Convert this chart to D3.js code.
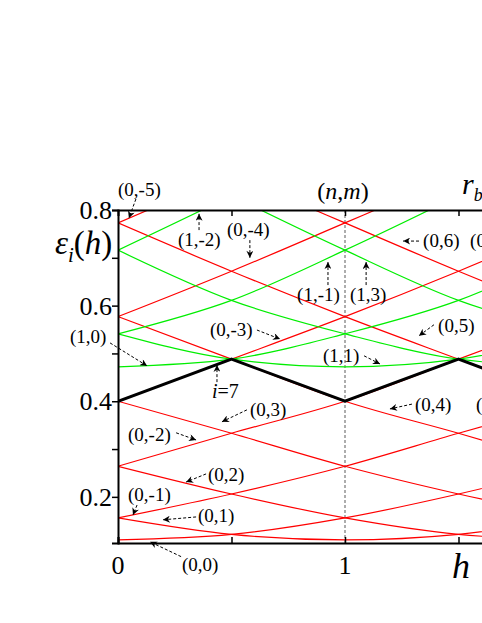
<!DOCTYPE html>
<html>
<head>
<meta charset="utf-8">
<script src="https://cdn.jsdelivr.net/npm/d3@7"></script>
<style>
  body { margin: 0; background: #fff; }
  text { font-family: "Liberation Serif", "Times New Roman", Times, serif; fill: #000; }
</style>
</head>
<body>
<div id="chart"></div>
<script>
var hGrid = [0, 0.5, 1, 1.5, 2];

// n = 0 levels (red), epsilon at each h of hGrid
var redNames = ["(0,0)", "(0,1)", "(0,-1)", "(0,2)", "(0,-2)", "(0,3)", "(0,-3)",
                "(0,4)", "(0,-4)", "(0,5)", "(0,-5)", "(0,6)"];
var redValues = [
  [0.110, 0.1215, 0.156, 0.206, 0.264],
  [0.156, 0.1215, 0.110, 0.1215, 0.156],
  [0.156, 0.206, 0.264, 0.333, 0.400],
  [0.264, 0.206, 0.156, 0.1215, 0.110],
  [0.264, 0.333, 0.400, 0.488, 0.577],
  [0.400, 0.333, 0.264, 0.206, 0.156],
  [0.400, 0.488, 0.577, 0.672, 0.773],
  [0.577, 0.488, 0.400, 0.333, 0.264],
  [0.577, 0.672, 0.773, 0.875, 0.980],
  [0.773, 0.672, 0.577, 0.488, 0.400],
  [0.773, 0.875, 0.980, 1.090, 1.200],
  [0.980, 0.875, 0.773, 0.672, 0.577]
];

// n = 1 levels (green)
var greenNames = ["(1,0)", "(1,1)", "(1,-1)", "(1,2)", "(1,-2)", "(1,3)"];
var greenValues = [
  [0.472, 0.488, 0.541, 0.611, 0.716],
  [0.541, 0.488, 0.472, 0.488, 0.541],
  [0.541, 0.611, 0.716, 0.830, 0.950],
  [0.716, 0.611, 0.541, 0.488, 0.472],
  [0.716, 0.830, 0.950, 1.070, 1.190],
  [0.950, 0.830, 0.716, 0.611, 0.541]
];

// i = 7 level (thick black)
var level7 = [0.400, 0.488, 0.400, 0.488, 0.400];

var yMajor = [0.2, 0.4, 0.6, 0.8];
var yMinor = [0.3, 0.5, 0.7];
var xMajor = [0, 1];
var xMinor = [0.5, 1.5];

// labels: text position and arrow (from -> tip), all in (h, eps)
var notes = [
  {t: "(0,-5)", h: 0.0,   e: 0.829, a: [0.079, 0.823, 0.048, 0.783]},
  {t: "(1,-2)", h: 0.264, e: 0.725, a: [0.357, 0.758, 0.357, 0.792]},
  {t: "(0,-4)", h: 0.480, e: 0.746, a: [0.581, 0.737, 0.581, 0.700]},
  {t: "(0,6)",  h: 1.344, e: 0.723, a: [1.326, 0.735, 1.256, 0.735]},
  {t: "(0,7)",  h: 1.551, e: 0.723},
  {t: "(1,-1)", h: 0.789, e: 0.610, a: [0.925, 0.643, 0.925, 0.691]},
  {t: "(1,3)",  h: 1.022, e: 0.610, a: [1.093, 0.643, 1.093, 0.691]},
  {t: "(0,-3)", h: 0.405, e: 0.537, a: [0.612, 0.549, 0.714, 0.530]},
  {t: "(1,0)",  h: -0.212, e: 0.522, a: [-0.035, 0.522, 0.128, 0.474]},
  {t: "(0,3)",  h: 0.581, e: 0.369, a: [0.568, 0.382, 0.458, 0.357]},
  {t: "(0,-2)", h: 0.044, e: 0.317, a: [0.256, 0.334, 0.344, 0.319]},
  {t: "(0,2)",  h: 0.396, e: 0.233, a: [0.388, 0.248, 0.300, 0.231]},
  {t: "(0,-1)", h: 0.044, e: 0.192, a: [0.084, 0.183, 0.066, 0.162]},
  {t: "(0,1)",  h: 0.352, e: 0.148, a: [0.344, 0.158, 0.198, 0.152]},
  {t: "(0,0)",  h: 0.282, e: 0.045, a: [0.278, 0.075, 0.141, 0.106]},
  {t: "(1,1)",  h: 0.903, e: 0.482, a: [1.084, 0.495, 1.154, 0.478]},
  {t: "(0,5)",  h: 1.410, e: 0.545, a: [1.392, 0.560, 1.326, 0.537]},
  {t: "(0,4)",  h: 1.308, e: 0.380, a: [1.295, 0.394, 1.198, 0.384]},
  {t: "(0,-3)", h: 1.577, e: 0.380}
];

var W = 482, H = 623;
var mLeft = 118, mTop = 210, mBottom = 543;
var pxPerH = 227;
var hMax = 1.8;

var svg = d3.select("#chart").append("svg")
  .attr("width", W).attr("height", H);

var x = d3.scaleLinear().domain([0, hMax]).range([mLeft, mLeft + pxPerH * hMax]);
var y = d3.scaleLinear().domain([0.1035, 0.8]).range([mBottom, mTop]);

var defs = svg.append("defs");
defs.append("clipPath").attr("id", "plot")
  .append("rect")
  .attr("x", mLeft).attr("y", mTop)
  .attr("width", pxPerH * hMax).attr("height", mBottom - mTop);

defs.append("marker")
  .attr("id", "arr")
  .attr("viewBox", "0 0 10 10")
  .attr("refX", 10).attr("refY", 5)
  .attr("markerWidth", 9).attr("markerHeight", 7)
  .attr("markerUnits", "userSpaceOnUse")
  .attr("orient", "auto")
  .append("path").attr("d", "M0,0 L10,5 L0,10 L3,5 z").attr("fill", "#000");

var plot = svg.append("g").attr("clip-path", "url(#plot)");

// dotted line at h = 1
plot.append("line")
  .attr("x1", x(1)).attr("x2", x(1))
  .attr("y1", mTop).attr("y2", mBottom)
  .attr("stroke", "#777").attr("stroke-width", 1.2)
  .attr("stroke-dasharray", "3,2");

var smooth = d3.line()
  .x(function(d, i) { return x(hGrid[i]); })
  .y(function(d) { return y(d); })
  .curve(d3.curveMonotoneX);

plot.selectAll(".red")
  .data(redValues).enter().append("path")
  .attr("d", smooth)
  .attr("fill", "none").attr("stroke", "#ff0000").attr("stroke-width", 1.2);

plot.selectAll(".green")
  .data(greenValues).enter().append("path")
  .attr("d", smooth)
  .attr("fill", "none").attr("stroke", "#00ee00").attr("stroke-width", 1.2);

plot.append("path")
  .datum(level7)
  .attr("d", d3.line()
    .x(function(d, i) { return x(hGrid[i]); })
    .y(function(d) { return y(d); }))
  .attr("fill", "none").attr("stroke", "#000").attr("stroke-width", 3);

// axes
var yAxis = svg.append("g").attr("transform", "translate(" + mLeft + ",0)")
  .call(d3.axisLeft(y).tickValues(yMajor.concat(yMinor)).tickSize(6).tickFormat(""));
var xAxis = svg.append("g").attr("transform", "translate(0," + mBottom + ")")
  .call(d3.axisTop(x).tickValues(xMajor.concat(xMinor)).tickSize(6).tickFormat(""));
var topAxis = svg.append("g").attr("transform", "translate(0," + mTop + ")")
  .call(d3.axisBottom(x).tickValues(xMinor.concat([1])).tickSize(6).tickFormat(""));
[yAxis, xAxis, topAxis].forEach(function(g) {
  g.select(".domain").attr("stroke-width", 2).attr("stroke", "#000");
  g.selectAll(".tick line").attr("stroke-width", 1.5);
});

svg.selectAll(".ylab")
  .data(yMajor).enter().append("text")
  .attr("x", mLeft - 6).attr("y", function(d) { return y(d) + 9; })
  .attr("text-anchor", "end")
  .style("font-size", "26px")
  .text(function(d) { return d3.format(".1f")(d); });

svg.selectAll(".xlab")
  .data(xMajor).enter().append("text")
  .attr("x", function(d) { return x(d); }).attr("y", mBottom + 31)
  .attr("text-anchor", "middle")
  .style("font-size", "26px")
  .text(function(d) { return d; });

// axis titles
var yt = svg.append("text").attr("x", 55).attr("y", 254).style("font-size", "33px");
yt.append("tspan").style("font-style", "italic").text("\u03b5");
yt.append("tspan").style("font-style", "italic").style("font-size", "21px").attr("dy", 8).text("i");
yt.append("tspan").attr("dy", -8).text("(");
yt.append("tspan").style("font-style", "italic").text("h");
yt.append("tspan").text(")");

svg.append("text").attr("x", 452).attr("y", 578)
  .style("font-size", "36px").style("font-style", "italic").text("h");

var nm = svg.append("text").attr("x", 343).attr("y", 199)
  .attr("text-anchor", "middle").style("font-size", "24px");
nm.append("tspan").text("(");
nm.append("tspan").style("font-style", "italic").text("n");
nm.append("tspan").text(",");
nm.append("tspan").style("font-style", "italic").text("m");
nm.append("tspan").text(")");

var rb = svg.append("text").attr("x", 462).attr("y", 194).style("font-size", "30px");
rb.append("tspan").style("font-style", "italic").text("r");
rb.append("tspan").style("font-style", "italic").style("font-size", "18px").attr("dy", 7).text("b");

function arrow(a) {
  svg.append("line")
    .attr("x1", x(a[0])).attr("y1", y(a[1]))
    .attr("x2", x(a[2])).attr("y2", y(a[3]))
    .attr("stroke", "#000").attr("stroke-width", 1)
    .attr("stroke-dasharray", "3,2")
    .attr("marker-end", "url(#arr)");
}

// level labels with dashed arrows
notes.forEach(function(n) {
  if (n.a) arrow(n.a);
  svg.append("text")
    .attr("x", x(n.h)).attr("y", y(n.e))
    .style("font-size", "19px")
    .text(n.t);
});

// i = 7 label
var il = svg.append("text").attr("x", x(0.414)).attr("y", y(0.407)).style("font-size", "20px");
il.append("tspan").style("font-style", "italic").text("i");
il.append("tspan").text("=7");
arrow([0.436, 0.440, 0.436, 0.476]);
</script>
</body>
</html>
